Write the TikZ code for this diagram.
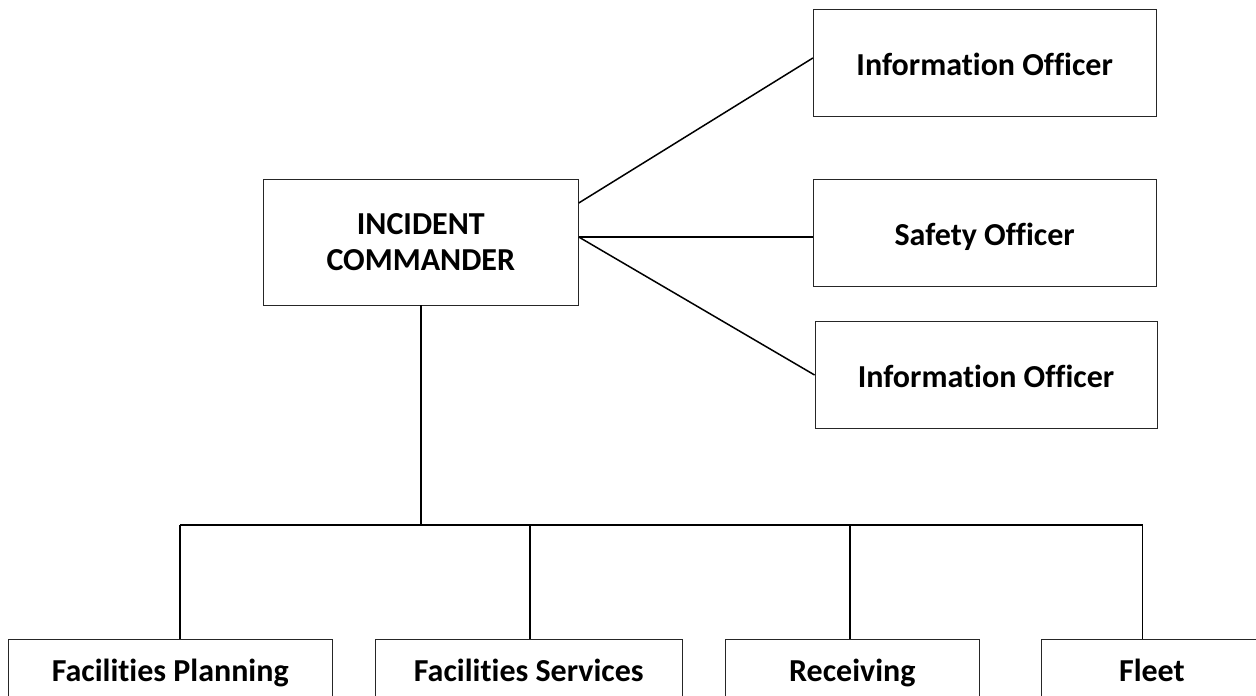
\documentclass[tikz,border=0pt]{standalone}
\usepackage{fontspec}
\setmainfont[Ligatures={NoCommon}]{Carlito}
\begin{document}
\begin{tikzpicture}[x=1pt,y=1pt,
  box/.style={draw=black!85, line width=0.9pt, rectangle, inner sep=0pt,
    font=\bfseries\fontsize{32}{35.5}\selectfont, align=center},
  onel/.style={text height=26pt, text depth=1pt},
  bottoml/.style={text height=22pt, text depth=2pt},
  conn/.style={draw=black, line width=1.5pt}]
\useasboundingbox (0,0) rectangle (1256,696);
\clip (0,0) rectangle (1256,696);
\fill[white] (0,0) rectangle (1256,696);
% top boxes
\node[box, minimum width=315pt, minimum height=126pt] (ic) at (420.8,454) {INCIDENT\\COMMANDER};
\node[box, onel, minimum width=342.7pt, minimum height=107.4pt] (io1) at (984.7,633) {Information Officer};
\node[box, onel, minimum width=342.7pt, minimum height=106.7pt] (so) at (984.7,462.7) {Safety Officer};
\node[box, onel, minimum width=342pt, minimum height=106.6pt] (io2) at (986,321) {Information Officer};
% bottom boxes
\node[box, bottoml, minimum width=323.7pt, minimum height=66pt] (fp) at (170.2,24) {Facilities Planning};
\node[box, bottoml, minimum width=307.7pt, minimum height=66pt] (fs) at (528.8,24) {Facilities Services};
\node[box, bottoml, minimum width=253.3pt, minimum height=66pt] (rc) at (852.3,24) {Receiving};
\node[box, bottoml, minimum width=220.3pt, minimum height=66pt] (fl) at (1151.9,24) {Fleet};
% staff connectors
\draw[conn] ([yshift=39pt]ic.east) -- ([yshift=5pt]io1.west);
\draw[conn] ([yshift=5pt]ic.east) -- ([yshift=5pt]ic.east -| so.west);
\draw[conn] ([yshift=5pt]ic.east) -- (io2.west);
% line connectors
\coordinate (bus) at (421,171);
\coordinate (d1) at (180,171);
\coordinate (d2) at (530,171);
\coordinate (d3) at (850,171);
\coordinate (d4) at (1142.7,171);
\draw[conn] (ic.south -| bus) -- (bus);
\draw[conn] (d1) -- (d4);
\draw[conn] (d1) -- (d1 |- fp.north);
\draw[conn] (d2) -- (d2 |- fs.north);
\draw[conn] (d3) -- (d3 |- rc.north);
\draw[conn] (d4) -- (d4 |- fl.north);
\end{tikzpicture}
\end{document}
